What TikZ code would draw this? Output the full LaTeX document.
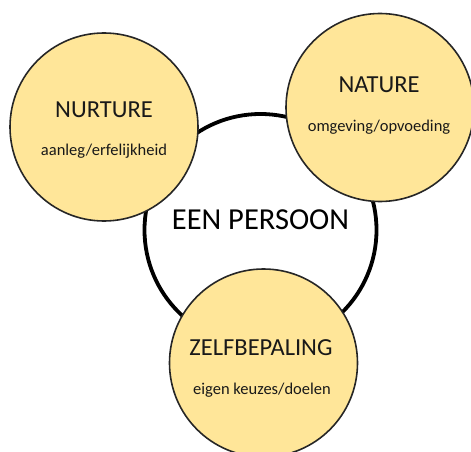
\documentclass[tikz,border=0pt]{standalone}
\usepackage{fontspec}
\setmainfont{Carlito}
\usetikzlibrary{positioning,calc}
\definecolor{geel}{HTML}{FFE699}
\tikzset{
	persoon/.style={circle, draw=black, line width=3.8pt, fill=white, minimum size=232pt, inner sep=0pt},
	factor/.style={circle, draw=black!85, line width=1.6pt, fill=geel, minimum size=188pt, inner sep=0pt},
	titel/.style={font=\fontsize{24.5}{28}\selectfont, text=black!90, inner sep=0pt},
	sub/.style={font=\fontsize{16.5}{20}\selectfont, text=black!90, inner sep=0pt}
}

\begin{document}
\begin{tikzpicture}[x=1pt, y=-1pt]
	\useasboundingbox (0, 0) rectangle (471, 452);
	\clip (0, 0) rectangle (471, 452);
	\begin{scope}
		\node[persoon] (persoon) at (260.5, 230) {};
		\node[font=\fontsize{30.5}{34}\selectfont, inner sep=0pt] (persoont) at (260.5, 220) {EEN PERSOON};

		\node[factor] (nurture) at (104, 127) {};
		\node[factor] (nature) at (380, 107.5) {};
		\node[factor] (zelf) at (263.5, 363) {};

		\node[titel] (nurturet) at (104, 110) {NURTURE};
		\node[sub] (nurtures) at (104, 151) {aanleg/erfelijkheid};
		\node[titel] (naturet) at (379, 85) {NATURE};
		\node[sub] (natures) at (379, 127) {omgeving/opvoeding};
		\node[titel] (zelft) at (261, 348) {ZELFBEPALING};
		\node[sub] (zelfs) at (262, 390) {eigen keuzes/doelen};
	\end{scope}
\end{tikzpicture}
\end{document}
